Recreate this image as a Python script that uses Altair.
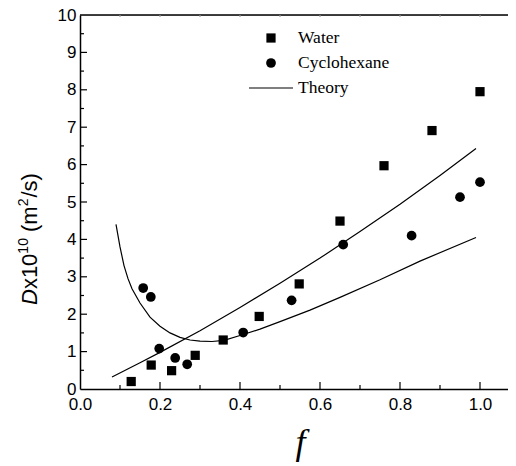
import altair as alt
import pandas as pd

# ---- data ----
water_f = [0.128, 0.178, 0.229, 0.288, 0.358, 0.448, 0.548, 0.650, 0.760, 0.880, 1.000]
water_d = [0.20, 0.64, 0.49, 0.90, 1.31, 1.94, 2.81, 4.49, 5.97, 6.91, 7.95]
cyc_f = [0.158, 0.177, 0.198, 0.238, 0.268, 0.408, 0.529, 0.658, 0.829, 0.950, 1.000]
cyc_d = [2.70, 2.46, 1.08, 0.83, 0.66, 1.51, 2.37, 3.86, 4.10, 5.13, 5.53]
theory1_f = [0.08, 0.15, 0.20, 0.30, 0.40, 0.50, 0.60, 0.70, 0.80, 0.90, 0.99]
theory1_d = [0.32, 0.70, 0.98, 1.56, 2.18, 2.83, 3.50, 4.21, 4.94, 5.71, 6.43]
theory2_f = [0.09, 0.10, 0.11, 0.12, 0.13, 0.15, 0.175, 0.20, 0.225, 0.25, 0.275,
             0.30, 0.33, 0.36, 0.40, 0.45, 0.50, 0.575, 0.65, 0.75, 0.85, 0.99]
theory2_d = [4.40, 3.80, 3.30, 2.95, 2.68, 2.30, 1.92, 1.68, 1.50, 1.38, 1.31,
             1.28, 1.27, 1.30, 1.43, 1.60, 1.80, 2.11, 2.45, 2.92, 3.42, 4.05]
x_label_values = [0.0, 0.2, 0.4, 0.6, 0.8, 1.0]
y_label_values = [0, 1, 2, 3, 4, 5, 6, 7, 8, 9, 10]
x_major_ticks = [0.2, 0.4, 0.6, 0.8, 1.0]
x_minor_ticks = [0.1, 0.3, 0.5, 0.7, 0.9]
y_major_ticks = [1, 2, 3, 4, 5, 6, 7, 8, 9]
y_minor_ticks = [0.5, 1.5, 2.5, 3.5, 4.5, 5.5, 6.5, 7.5, 8.5, 9.5]
legend_labels = ["Water", "Cyclohexane", "Theory"]

W, H = 428, 374
TOP = 7
x_scale = alt.Scale(domain=[0, 1.07], nice=False, zero=False)
y_scale = alt.Scale(domain=[0, 10], nice=False)

water_df = pd.DataFrame({"f": water_f, "D": water_d})
cyc_df = pd.DataFrame({"f": cyc_f, "D": cyc_d})
theory_df = pd.concat([
    pd.DataFrame({"f": theory1_f, "D": theory1_d, "curve": "upper"}),
    pd.DataFrame({"f": theory2_f, "D": theory2_d, "curve": "lower"}),
])

x_axis = alt.Axis(values=x_label_values, format=".1f", title="f",
                  labelFont="Liberation Sans", labelFontSize=17, labelColor="black",
                  labelPadding=7, labelFlush=False, ticks=False, tickSize=0, grid=False,
                  domainColor="black", domainWidth=1.5,
                  titleFont="Liberation Serif", titleFontStyle="italic",
                  titleFontWeight="normal", titleFontSize=36, titleColor="black",
                  titlePadding=13, titleX=220)
y_axis = alt.Axis(values=y_label_values, format="d", title=" ",
                  labelFont="Liberation Sans", labelFontSize=17, labelColor="black",
                  labelPadding=4, labelFlush=False, ticks=False, tickSize=0, grid=False,
                  domainColor="black", domainWidth=1.5)

X = alt.X("f:Q", scale=x_scale, axis=x_axis)
Y = alt.Y("D:Q", scale=y_scale, axis=y_axis)

water = alt.Chart(water_df).mark_point(shape="square", filled=True, size=85,
                                       color="black", opacity=1).encode(x=X, y=Y)
cyc = alt.Chart(cyc_df).mark_circle(size=95, color="black", opacity=1).encode(x=X, y=Y)
theory = alt.Chart(theory_df).mark_line(color="black", strokeWidth=1.2).encode(
    x=X, y=Y, detail="curve:N")

def xticks(vals, length, color="black", top=False):
    df = pd.DataFrame({"f": vals})
    if top:
        yy, yy2 = 0, length
    else:
        yy, yy2 = H, H - length
    return alt.Chart(df).mark_rule(color=color, strokeWidth=1.2).encode(
        x=X, y=alt.value(yy), y2=alt.value(yy2))

def yticks(vals, length):
    df = pd.DataFrame({"D": vals})
    return alt.Chart(df).mark_rule(color="black", strokeWidth=1.2).encode(
        y=Y, x=alt.value(0), x2=alt.value(length))

one = pd.DataFrame({"a": [0]})
top_border = alt.Chart(one).mark_rule(color="black", strokeWidth=1.5).encode(
    x=alt.value(0), x2=alt.value(W), y=alt.value(0))

# legend (plot-area pixel offsets)
dy = 6 - TOP
leg_font = dict(font="Liberation Serif", fontSize=17.5, color="black",
                align="left", baseline="middle")
leg_sq = alt.Chart(one).mark_point(shape="square", filled=True, size=85,
                                   color="black", opacity=1).encode(
    x=alt.value(191), y=alt.value(24 + dy))
leg_ci = alt.Chart(one).mark_circle(size=95, color="black", opacity=1).encode(
    x=alt.value(191), y=alt.value(49 + dy))
leg_ln = alt.Chart(one).mark_rule(color="black", strokeWidth=1.2).encode(
    x=alt.value(169), x2=alt.value(213), y=alt.value(74 + dy))
leg_t1 = alt.Chart(one).mark_text(text=legend_labels[0], **leg_font).encode(
    x=alt.value(218), y=alt.value(24 + dy))
leg_t2 = alt.Chart(one).mark_text(text=legend_labels[1], **leg_font).encode(
    x=alt.value(218), y=alt.value(49 + dy))
leg_t3 = alt.Chart(one).mark_text(text=legend_labels[2], **leg_font).encode(
    x=alt.value(218), y=alt.value(74 + dy))

# y title pieces (rotated)
FS = 22.0
SS = 14.0
TX = -50
TY = 291 + dy
def ytxt(txt, y, size=FS, style="normal", dx=0):
    return alt.Chart(one).mark_text(text=txt, font="Liberation Sans", fontSize=size,
                                    fontStyle=style, color="black", angle=270,
                                    align="left", baseline="middle").encode(
        x=alt.value(TX + dx), y=alt.value(y))

p1 = TY - 0.722 * FS               # after D
p2 = p1 - 1.612 * FS               # after x10
p3 = p2 - 1.112 * SS - 0.278 * FS  # after superscript 10 and a space
p4 = p3 - 1.166 * FS               # after (m
p5 = p4 - 0.556 * SS - 1           # after superscript 2
t_D = ytxt("D", TY, style="italic")
t_x10 = ytxt("x10", p1)
t_s10 = ytxt("10", p2, size=SS, dx=-6.5)
t_m = ytxt("(m", p3)
t_s2 = ytxt("2", p4, size=SS, dx=-6.5)
t_s = ytxt("/s)", p5)

chart = alt.layer(
    water, top_border,
    xticks(x_major_ticks, 7), xticks(x_minor_ticks, 4),
    xticks(x_minor_ticks + x_major_ticks, 2, color="#9a9a9a", top=True),
    yticks(y_major_ticks, 7), yticks(y_minor_ticks, 4),
    theory, cyc,
    leg_sq, leg_ci, leg_ln, leg_t1, leg_t2, leg_t3,
    t_D, t_x10, t_s10, t_m, t_s2, t_s,
).properties(
    width=W, height=H,
    autosize=alt.AutoSizeParams(type="none"),
    padding={"left": 72, "top": TOP, "right": 0, "bottom": 75},
).configure_view(stroke="transparent").configure(background="white")

chart.save("out.html", embed_options={"renderer": "svg", "actions": False})
